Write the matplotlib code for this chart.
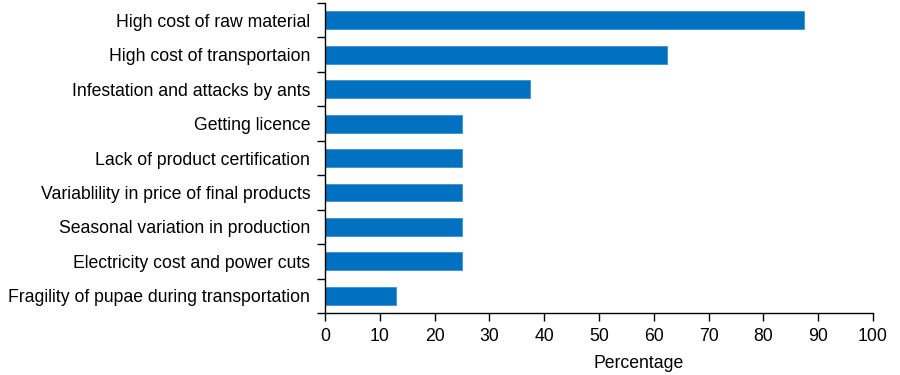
import matplotlib.pyplot as plt
import numpy as np

plt.rcParams['font.family'] = ['Liberation Sans', 'DejaVu Sans']

categories = [
    "High cost of raw material",
    "High cost of transportaion",
    "Infestation and attacks by ants",
    "Getting licence",
    "Lack of product certification",
    "Variablility in price of final products",
    "Seasonal variation in production",
    "Electricity cost and power cuts",
    "Fragility of pupae during transportation",
]
percentages = [87.5, 62.5, 37.5, 25, 25, 25, 25, 25, 13]
xticks = list(range(0, 101, 10))

fig = plt.figure(figsize=(9, 3.75), dpi=100)
ax = fig.add_axes([0.361, 0.165, 0.609, 0.827])

y = np.arange(len(categories))
ax.barh(y, percentages, height=0.52, color='#0070c0', edgecolor='#3d8fd0', linewidth=0.6)

ax.set_ylim(len(categories) - 0.5, -0.5)
ax.set_xlim(0, 100)
ax.set_xticks(xticks)
ax.set_yticks(y)
ax.set_yticklabels(categories)
ax.set_yticks(np.arange(-0.5, len(categories)), minor=True)
ax.tick_params(axis='y', which='major', length=0, pad=10.5, labelsize=12.7)
ax.tick_params(axis='y', which='minor', length=6, width=1, direction='out')
ax.tick_params(axis='x', length=6, width=1, direction='out', labelsize=12.7, pad=5)
ax.set_xlabel('Percentage', fontsize=12.7, labelpad=7)
ax.xaxis.set_label_coords(0.573, -0.135)

for s in ['top', 'right']:
    ax.spines[s].set_visible(False)
for s in ['left', 'bottom']:
    ax.spines[s].set_linewidth(1)

fig.savefig('out.png')
